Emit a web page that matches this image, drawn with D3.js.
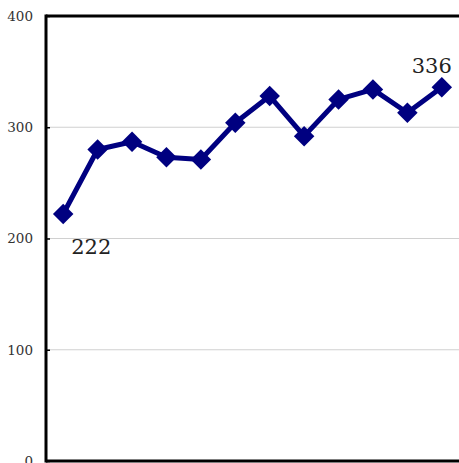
<!DOCTYPE html>
<html>
<head>
<meta charset="utf-8">
<script src="https://cdn.jsdelivr.net/npm/d3@7"></script>
<style>
body { margin: 0; background: #fff; }
</style>
</head>
<body>
<script>
// data
const categories = ["1","2","3","4","5","6","7","8","9","10","11","12"];
const values = [222, 280, 287, 273, 271, 304, 328, 292, 325, 334, 313, 336];
const yTicks = [0, 100, 200, 300, 400];

const width = 459;
const height = 463;
const margin = {top:16, right:0, bottom:2, left:46};
const serif = "'DejaVu Serif', serif";

const svg = d3.select("body")
.append("svg")
.attr("width", width)
.attr("height", height);

const x = d3.scalePoint()
.domain(categories)
.range([margin.left, width - margin.right])
.padding(0.5);

const y = d3.scaleLinear()
.domain([0, 400])
.range([height - margin.bottom, margin.top]);

// gridlines
svg.selectAll("line.grid")
.data(yTicks.slice(1, 4))
.enter()
.append("line")
.attr("class","grid")
.attr("x1", margin.left)
.attr("x2", width)
.attr("y1", d => y(d))
.attr("y2", d => y(d))
.attr("stroke","#d0d0d0")
.attr("stroke-width",1.2);

// y axis
const yAxis = d3.axisLeft(y)
.tickValues(yTicks)
.tickSize(-4)
.tickPadding(13);

const gy = svg.append("g")
.attr("transform","translate("+margin.left+",0)")
.call(yAxis);
gy.select(".domain").remove();
gy.selectAll(".tick line").attr("stroke","#000").attr("stroke-width",1.5);
gy.selectAll(".tick text")
.style("font-family", serif)
.style("font-size","13.5px")
.attr("fill","#333");

// frame: left, top, bottom
svg.append("line")
.attr("x1", margin.left).attr("x2", margin.left)
.attr("y1", y(400) - 1.5).attr("y2", y(0) + 1.5)
.attr("stroke","#000").attr("stroke-width",3);
svg.append("line")
.attr("x1", margin.left).attr("x2", width)
.attr("y1", y(400)).attr("y2", y(400))
.attr("stroke","#000").attr("stroke-width",3);
svg.append("line")
.attr("x1", margin.left).attr("x2", width)
.attr("y1", y(0)).attr("y2", y(0))
.attr("stroke","#000").attr("stroke-width",3);

// line
const line = d3.line()
.x((d,i) => x(categories[i]))
.y(d => y(d));

svg.append("path")
.datum(values)
.attr("d", line)
.attr("fill","none")
.attr("stroke","#000080")
.attr("stroke-width",5)
.attr("stroke-linejoin","round");

// markers
const diamond = d3.symbol().type(d3.symbolSquare).size(210);
svg.selectAll("path.marker")
.data(values)
.enter()
.append("path")
.attr("class","marker")
.attr("d", diamond)
.attr("transform", (d,i) => "translate("+x(categories[i])+","+y(d)+") rotate(45)")
.attr("fill","#000080");

// labels for first and last points
const first = 0, last = values.length - 1;
svg.append("text")
.attr("x", x(categories[first]) + 28)
.attr("y", y(values[first]) + 40)
.attr("text-anchor","middle")
.style("font-family", serif)
.style("font-size","21px")
.attr("fill","#222")
.text(values[first]);

svg.append("text")
.attr("x", x(categories[last]) - 10)
.attr("y", y(values[last]) - 14)
.attr("text-anchor","middle")
.style("font-family", serif)
.style("font-size","21px")
.attr("fill","#222")
.text(values[last]);
</script>
</body>
</html>
